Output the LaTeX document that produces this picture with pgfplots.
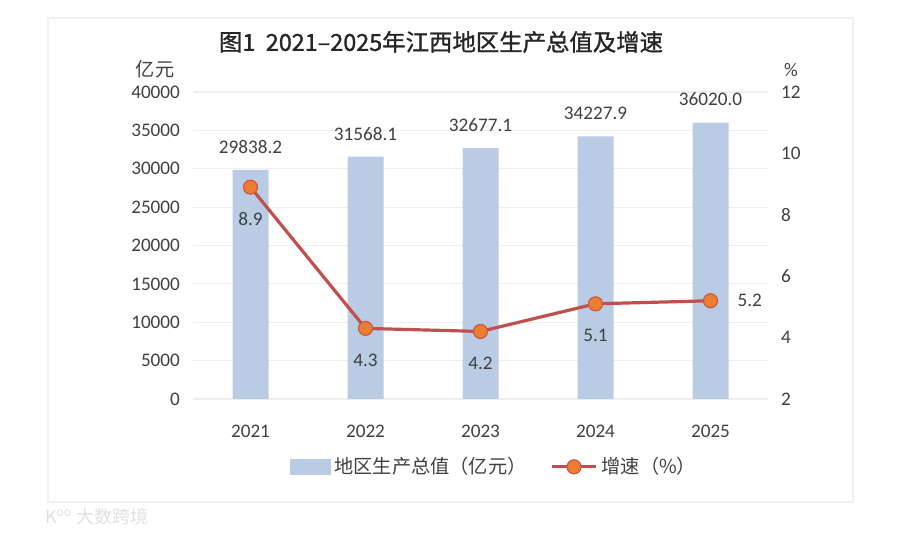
\documentclass[border=0pt]{standalone}
\usepackage{fontspec}
\usepackage{pgfplots}
\pgfplotsset{compat=1.18}
\setmainfont{Carlito}
\newfontfamily\cjk{Noto Sans CJK SC}
\newfontfamily\cjkt{Noto Sans CJK SC}[FakeBold=1.2]
\definecolor{barblue}{HTML}{B9CCE4}
\definecolor{linered}{HTML}{C0504D}
\definecolor{mkorange}{HTML}{ED7D31}
\definecolor{txt}{HTML}{404040}
\definecolor{gridc}{HTML}{EEEEEE}
\begin{document}
\begin{tikzpicture}
% canvas: 1 px of the 900x534 reference = 0.5pt, origin bottom-left
\path[use as bounding box] (0pt,0pt) rectangle (450pt,267pt);
\draw[draw=black!6,line width=0.6pt] (24pt,16pt) rectangle (426.5pt,258pt);
\node[text=black!85,font=\cjkt\fontsize{11.7pt}{13pt}\selectfont] at (220.5pt,246pt) {图1\ \ 2021–2025年江西地区生产总值及增速};
\node[text=txt,font=\cjk\fontsize{9.6pt}{11pt}\selectfont] at (77.5pt,232.5pt) {亿元};
\node[text=txt,font=\fontsize{9.6pt}{11pt}\selectfont] at (395.5pt,232pt) {\%};
\node[text=black!12,font=\cjk\fontsize{9pt}{10pt}\selectfont,anchor=west] at (19pt,8.5pt) {K\textsuperscript{oo} 大数跨境};
\begin{axis}[
  at={(96.5pt,67.5pt)}, anchor=south west,
  scale only axis, width=287.5pt, height=153.5pt,
  xmin=-0.5, xmax=4.5, ymin=0, ymax=40000,
  xtick={0,1,2,3,4}, xticklabels={2021,2022,2023,2024,2025},
  ytick={0,5000,...,40000}, scaled y ticks=false,
  axis line style={draw=none}, major tick style={draw=none},
  ymajorgrids, grid style={gridc,line width=0.6pt},
  /pgf/number format/assume math mode=true,
  /pgf/number format/1000 sep={},
  ticklabel style={text=txt,font=\fontsize{9.6pt}{11pt}\selectfont},
  yticklabel style={xshift=-3pt},
  xticklabel style={yshift=-5pt},
  ybar, bar width=18pt,
  nodes near coords={\pgfmathprintnumber[fixed,fixed zerofill,precision=1,1000 sep={},assume math mode=true]{\pgfplotspointmeta}},
  every node near coord/.append style={text=txt,font=\fontsize{9.6pt}{11pt}\selectfont,anchor=center,yshift=11.5pt},
]
\addplot[fill=barblue,draw=none] coordinates {(0,29838.2) (1,31568.1) (2,32677.1) (3,34227.9) (4,36020.0)};
\end{axis}
\begin{axis}[
  at={(96.5pt,67.5pt)}, anchor=south west,
  scale only axis, width=287.5pt, height=153.5pt,
  xmin=-0.5, xmax=4.5, ymin=2, ymax=12,
  axis y line*=right, hide x axis,
  ytick={2,4,...,12},
  axis line style={draw=none}, major tick style={draw=none},
  /pgf/number format/assume math mode=true,
  ticklabel style={text=txt,font=\fontsize{9.6pt}{11pt}\selectfont},
  yticklabel style={xshift=3pt},
  legend columns=2,
  legend style={at={(0.525,-0.221)},anchor=center,draw=none,fill=none,
    font=\cjk\fontsize{9.6pt}{11pt}\selectfont,text=txt,
    /tikz/every even column/.append style={column sep=10pt}},
]
\addlegendimage{legend image code/.code={\fill[barblue] (0pt,-3.8pt) rectangle (20pt,3.8pt);}}
\addlegendentry{地区生产总值（亿元）}
\addplot[linered,line width=1.6pt,mark=*,mark size=3.5pt,mark options={fill=mkorange,draw=linered!80!mkorange,line width=0.6pt},
  legend image code/.code={\draw[linered,line width=1.6pt] (0pt,0pt)--(22pt,0pt); \fill[mkorange,draw=linered!80!mkorange,line width=0.6pt] (11pt,0pt) circle (3.5pt);}]
  coordinates {(0,8.9) (1,4.3) (2,4.2) (3,5.1) (4,5.2)};
\addlegendentry{增速（\%）}
\addplot[draw=none,mark=none,forget plot,nodes near coords={\pgfmathprintnumber[fixed,precision=1,assume math mode=true]{\pgfplotspointmeta}},
  every node near coord/.append style={text=txt,font=\fontsize{9.6pt}{11pt}\selectfont,anchor=center,yshift=-16pt}]
  coordinates {(0,8.9) (1,4.3) (2,4.2) (3,5.1)};
\addplot[draw=none,mark=none,forget plot,nodes near coords={\pgfmathprintnumber[fixed,precision=1,assume math mode=true]{\pgfplotspointmeta}},
  every node near coord/.append style={text=txt,font=\fontsize{9.6pt}{11pt}\selectfont,anchor=west,xshift=10pt}]
  coordinates {(4,5.2)};
\end{axis}
\end{tikzpicture}
\end{document}
